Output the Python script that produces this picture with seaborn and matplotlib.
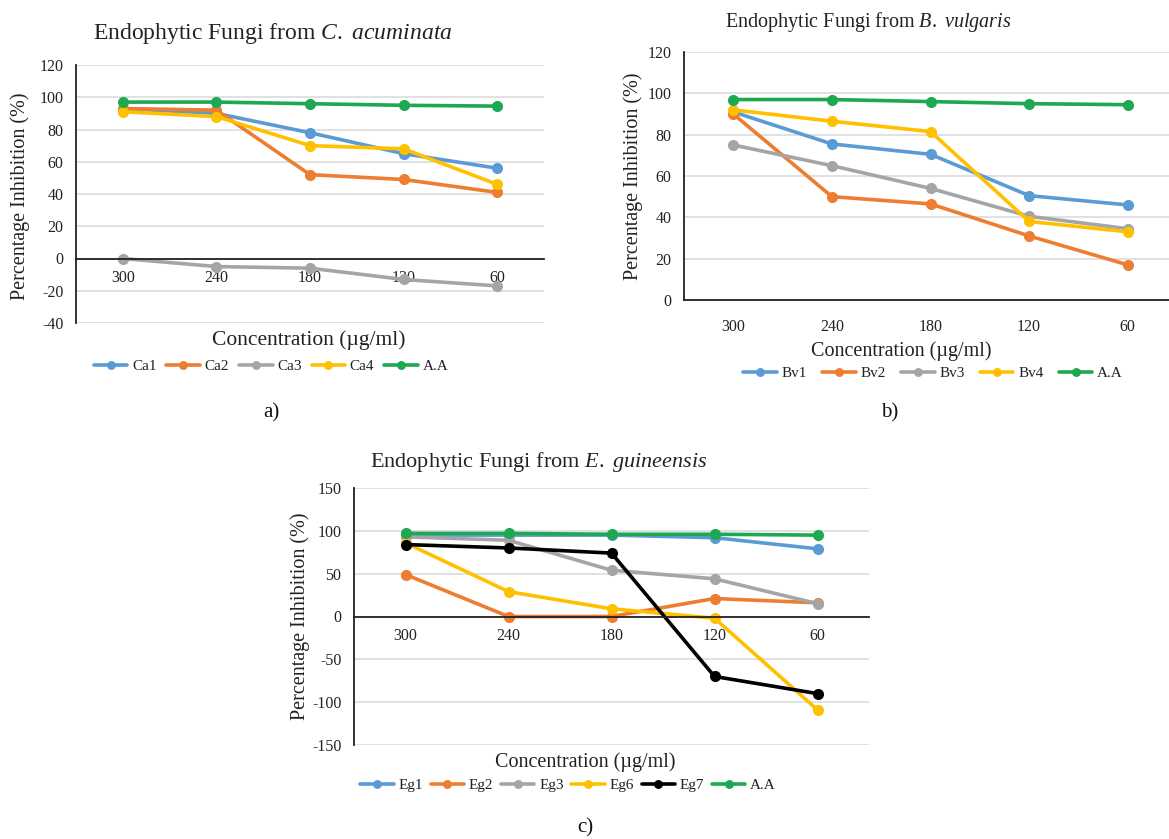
import numpy as np
import pandas as pd
import matplotlib
matplotlib.use("Agg")
import matplotlib.pyplot as plt
import seaborn as sns

# ---------------- data ----------------
concentrations = ["300", "240", "180", "120", "60"]

ca_names = ["Ca1", "Ca2", "Ca3", "Ca4", "A.A"]
ca1 = [93, 90, 78, 65, 56]
ca2 = [93, 92, 52, 49, 41]
ca3 = [0, -5, -6, -13, -17]
ca4 = [91, 88, 70, 68, 46]
ca_aa = [97, 97, 96, 95, 94.5]

bv_names = ["Bv1", "Bv2", "Bv3", "Bv4", "A.A"]
bv1 = [91, 75.5, 70.5, 50.5, 46]
bv2 = [90, 50, 46.5, 31, 17]
bv3 = [75, 65, 54, 40.5, 34.5]
bv4 = [92, 86.5, 81.5, 38, 33]
bv_aa = [97, 97, 96, 95, 94.5]

eg_names = ["Eg1", "Eg2", "Eg3", "Eg6", "Eg7", "A.A"]
eg1 = [95, 95, 95, 92, 79]
eg2 = [49, 0, 0, 21, 16]
eg3 = [93, 89, 54, 44, 15]
eg6 = [86, 29, 9, -2, -109]
eg7 = [84, 80, 74, -70, -90]
eg_aa = [97, 97, 96, 96, 95]

BLUE, ORANGE, GRAY, YELLOW, GREEN, BLACK = "#5B9BD5", "#ED7D31", "#A5A5A5", "#FFC000", "#1DA851", "#000000"

# ---------------- style ----------------
sns.set_theme(style="white")
plt.rcParams["font.family"] = ["Liberation Serif", "DejaVu Serif"]
plt.rcParams["mathtext.fontset"] = "custom"
plt.rcParams["mathtext.rm"] = "Liberation Serif"
plt.rcParams["mathtext.it"] = "Liberation Serif:italic"
plt.rcParams["axes.unicode_minus"] = False

W, H = 1169, 839
fig = plt.figure(figsize=(W / 100, H / 100), dpi=100)
fig.patch.set_facecolor("white")


def px_axes(l, t, r, b):
    return fig.add_axes([l / W, 1 - b / H, (r - l) / W, (b - t) / H])


def draw_panel(ax, names, series, colors, ylim, ystep, zero_axis):
    pos = np.arange(len(concentrations))
    frames = []
    for n, s in zip(names, series):
        frames.append(pd.DataFrame({"pos": pos, "val": s, "name": n}))
    df = pd.concat(frames, ignore_index=True)
    for n, c in zip(names, colors):
        sub = df[df["name"] == n]
        sns.lineplot(data=sub, x="pos", y="val", color=c, marker="o",
                     markersize=8, markeredgewidth=0, linewidth=2.6,
                     label=n, ax=ax, sort=False)
    if ax.get_legend() is not None:
        ax.get_legend().remove()
    ax.set_xlim(-0.5, len(concentrations) - 0.5)
    ax.set_ylim(*ylim)
    ax.set_yticks(np.arange(ylim[0], ylim[1] + 1, ystep))
    ax.set_xticks(pos)
    ax.set_xticklabels(concentrations)
    ax.set_xlabel("")
    ax.set_ylabel("")
    ax.yaxis.grid(True, color="#D9D9D9", linewidth=1.1)
    ax.xaxis.grid(False)
    ax.set_axisbelow(True)
    for sp in ["top", "right"]:
        ax.spines[sp].set_visible(False)
    ax.spines["left"].set_color("#222222")
    ax.spines["left"].set_linewidth(1.3)
    ax.spines["bottom"].set_color("#222222")
    ax.spines["bottom"].set_linewidth(1.3)
    if zero_axis:
        ax.spines["bottom"].set_position(("data", 0))
    ax.tick_params(axis="both", length=0, labelsize=11.5, colors="#222222")
    ax.tick_params(axis="x", pad=8)
    ax.tick_params(axis="y", pad=9)
    ax.set_facecolor("white")
    h, l = ax.get_legend_handles_labels()
    return h, l


# panel a
axa = px_axes(76, 65, 544, 323)
ha, la = draw_panel(axa, ca_names, [ca1, ca2, ca3, ca4, ca_aa],
                    [BLUE, ORANGE, GRAY, YELLOW, GREEN], (-40, 120), 20, True)
# panel b
axb = px_axes(684, 52, 1177, 300)
hb, lb = draw_panel(axb, bv_names, [bv1, bv2, bv3, bv4, bv_aa],
                    [BLUE, ORANGE, GRAY, YELLOW, GREEN], (0, 120), 20, False)
axb.tick_params(axis="x", pad=14)
# panel c
axc = px_axes(354, 488, 869, 745)
hc, lc = draw_panel(axc, eg_names, [eg1, eg2, eg3, eg6, eg7, eg_aa],
                    [BLUE, ORANGE, GRAY, YELLOW, BLACK, GREEN], (-150, 150), 50, True)

# titles
tkw = dict(ha="center", va="center", color="#222222")
fig.text(273 / W, 1 - 33 / H, r"Endophytic Fungi from $\mathit{C.}$ $\mathit{acuminata}$",
         fontsize=17, **tkw)
fig.text(868 / W, 1 - 22 / H, r"Endophytic Fungi from $\mathit{B.}$ $\mathit{vulgaris}$",
         fontsize=14.5, **tkw)
fig.text(539 / W, 1 - 462 / H, r"Endophytic Fungi from $\mathit{E.}$ $\mathit{guineensis}$",
         fontsize=16, **tkw)

# y labels
ykw = dict(ha="center", va="center", rotation=90, fontsize=14.5, color="#222222")
fig.text(20 / W, 1 - 196 / H, "Percentage Inhibition (%)", **ykw)
fig.text(633 / W, 1 - 176 / H, "Percentage Inhibition (%)", **ykw)
fig.text(300 / W, 1 - 616 / H, "Percentage Inhibition (%)", **ykw)

# x labels
xkw = dict(ha="center", va="center", color="#222222")
fig.text(309 / W, 1 - 340 / H, "Concentration (\u00b5g/ml)", fontsize=15.5, **xkw)
fig.text(901 / W, 1 - 351 / H, "Concentration (\u00b5g/ml)", fontsize=14.5, **xkw)
fig.text(585 / W, 1 - 762 / H, "Concentration (\u00b5g/ml)", fontsize=14.5, **xkw)

# legends
lkw = dict(loc="center", frameon=False, fontsize=11, handlelength=2.2,
           handletextpad=0.3, borderaxespad=0, labelcolor="#222222",
           markerscale=0.8)
fig.legend(ha, la, bbox_to_anchor=(271 / W, 1 - 366 / H), ncol=5,
           columnspacing=0.65, **lkw)
fig.legend(hb, lb, bbox_to_anchor=(933 / W, 1 - 373 / H), ncol=5,
           columnspacing=1.0, **lkw)
fig.legend(hc, lc, bbox_to_anchor=(568 / W, 1 - 785 / H), ncol=6,
           columnspacing=0.5, **lkw)

# panel letters
pkw = dict(ha="center", va="center", fontsize=15, color="#111111")
fig.text(271 / W, 1 - 413 / H, "a)", **pkw)
fig.text(890 / W, 1 - 413 / H, "b)", **pkw)
fig.text(585 / W, 1 - 828 / H, "c)", **pkw)

fig.savefig("out.png", dpi=100, facecolor="white")
